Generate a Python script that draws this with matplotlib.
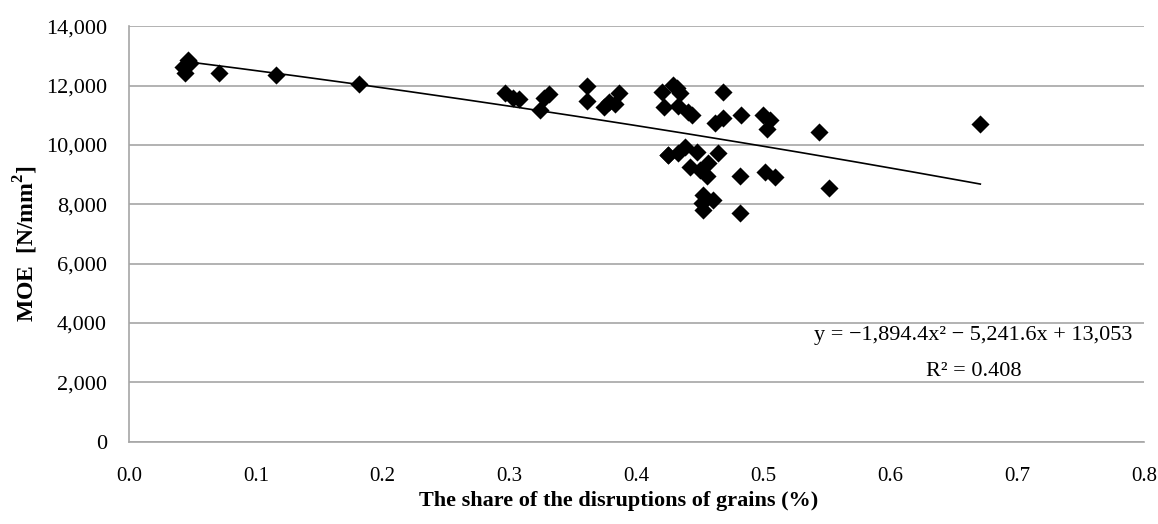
import matplotlib
matplotlib.use("Agg")
import matplotlib.pyplot as plt
import matplotlib.ticker as ticker
import numpy as np

plt.rcParams['font.family'] = ['Liberation Serif', 'DejaVu Serif']
plt.rcParams['mathtext.fontset'] = 'custom'
plt.rcParams['mathtext.rm'] = 'Liberation Serif'
plt.rcParams['mathtext.bf'] = 'Liberation Serif:bold'

# share of grain disruptions vs. modulus of elasticity
share = [0.044, 0.0466, 0.0427, 0.048, 0.071, 0.1155, 0.181,
         0.296, 0.303, 0.307, 0.324, 0.327, 0.331, 0.361, 0.361,
         0.374, 0.378, 0.383, 0.386,
         0.420, 0.4217, 0.429, 0.4317, 0.4343, 0.433, 0.4409, 0.4435,
         0.4684, 0.4618, 0.4684, 0.482, 0.4998, 0.505, 0.5025, 0.5438,
         0.4246, 0.4251, 0.438, 0.433, 0.4475, 0.4644, 0.442, 0.450,
         0.4566, 0.4553, 0.4814, 0.501, 0.509, 0.552, 0.4527, 0.4605,
         0.4513, 0.4527, 0.4814, 0.671]
moe = [12418, 12867, 12620, 12780, 12440, 12360, 12047,
       11744, 11575, 11540, 11180, 11575, 11720, 11990, 11495,
       11292, 11460, 11380, 11744,
       11777, 11292, 12024, 11912, 11744, 11315, 11123, 11012,
       11800, 10732, 10900, 11012, 11012, 10843, 10530, 10428,
       9663, 9663, 9922, 9740, 9775, 9720, 9268, 9157,
       9382, 8954, 8954, 9100, 8910, 8540, 8314, 8145,
       8033, 7808, 7696, 10700]

# quadratic trend coefficients
a, b, c = -1894.4, -5241.6, 13053
r2 = 0.408

fig = plt.figure(figsize=(11.58, 5.24), dpi=100)
ax = fig.add_axes([0.1114, 0.1574, 0.8765, 0.7922])

ax.scatter(share, moe, marker='D', s=85, color='black', zorder=3, linewidths=0)

xs = np.linspace(min(share), max(share), 200)
ax.plot(xs, a * xs**2 + b * xs + c, color='black', linewidth=1.2, zorder=4)

ax.set_xlim(0, 0.8)
ax.set_ylim(0, 14000)
ax.xaxis.set_major_locator(ticker.MultipleLocator(0.1))
ax.yaxis.set_major_locator(ticker.MultipleLocator(2000))
ax.xaxis.set_major_formatter(ticker.FormatStrFormatter('%.1f'))
ax.yaxis.set_major_formatter(ticker.FuncFormatter(lambda v, p: f"{int(v):,}"))
ax.grid(axis='y', color='#a6a6a6', linewidth=1.2)
ax.set_axisbelow(True)
for s in ['top', 'right']:
    ax.spines[s].set_visible(False)
for s in ['left', 'bottom']:
    ax.spines[s].set_color('#a6a6a6')
    ax.spines[s].set_linewidth(1.2)
ax.tick_params(length=0, labelsize=16, colors='black')
ax.tick_params(axis='y', pad=16)
ax.tick_params(axis='x', pad=18, labelsize=15)

ax.set_xlabel('The share of the disruptions of grains (%)', fontsize=16,
              fontweight='bold')
ax.xaxis.label.set_va('center')
ax.xaxis.set_label_coords(0.482, -0.143)
ax.set_ylabel('MOE  [N/mm$^\\mathbf{2}$]', fontsize=17, fontweight='bold')
ax.yaxis.label.set_va('center')
ax.yaxis.set_label_coords(-0.102, 0.476)

ax.text(0.7905, 3592, f'y = \u22121,894.4x\u00b2 \u2212 5,241.6x + {c:,}',
        fontsize=16, ha='right', va='center')
ax.text(0.666, 2378, f'R\u00b2 = {r2}', fontsize=16, ha='center', va='center')

fig.savefig('out.png', dpi=100)
